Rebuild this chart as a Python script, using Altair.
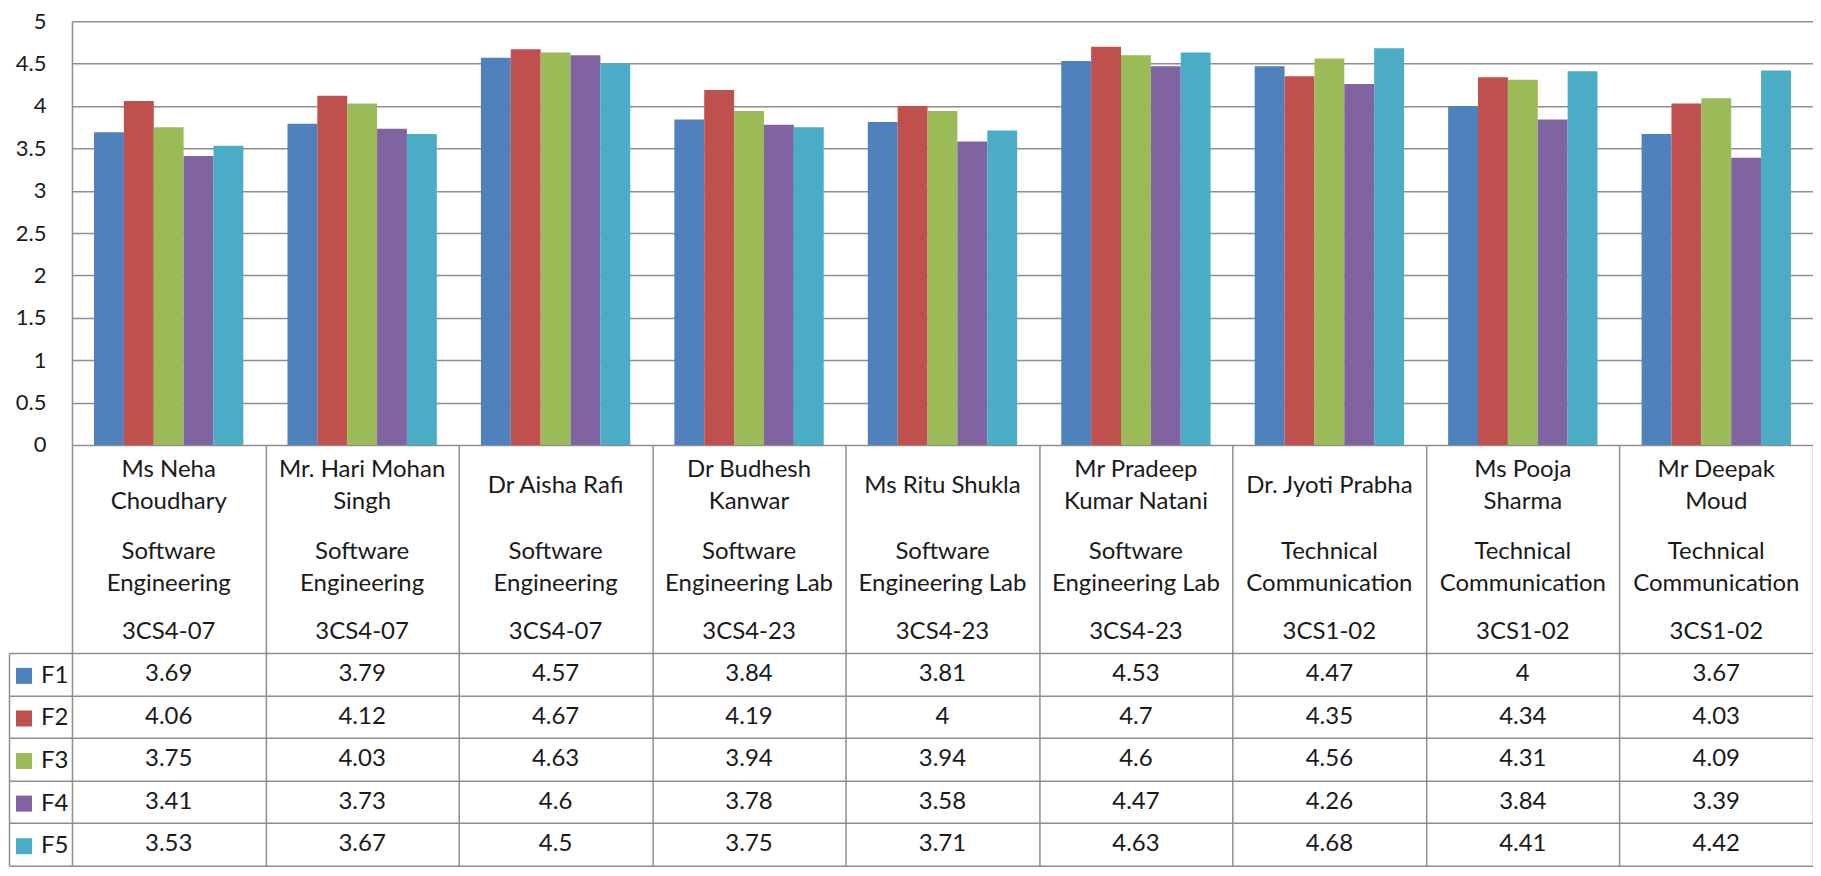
import altair as alt
import pandas as pd

# ---------------- data ----------------
names = ["Ms Neha\nChoudhary", "Mr. Hari Mohan\nSingh", "Dr Aisha Rafi",
         "Dr Budhesh\nKanwar", "Ms Ritu Shukla", "Mr Pradeep\nKumar Natani",
         "Dr. Jyoti Prabha", "Ms Pooja\nSharma", "Mr Deepak\nMoud"]
subjects = ["Software\nEngineering", "Software\nEngineering", "Software\nEngineering",
            "Software\nEngineering Lab", "Software\nEngineering Lab", "Software\nEngineering Lab",
            "Technical\nCommunication", "Technical\nCommunication", "Technical\nCommunication"]
codes = ["3CS4-07", "3CS4-07", "3CS4-07", "3CS4-23", "3CS4-23", "3CS4-23",
         "3CS1-02", "3CS1-02", "3CS1-02"]
series = ["F1", "F2", "F3", "F4", "F5"]
f1 = [3.69, 3.79, 4.57, 3.84, 3.81, 4.53, 4.47, 4, 3.67]
f2 = [4.06, 4.12, 4.67, 4.19, 4, 4.7, 4.35, 4.34, 4.03]
f3 = [3.75, 4.03, 4.63, 3.94, 3.94, 4.6, 4.56, 4.31, 4.09]
f4 = [3.41, 3.73, 4.6, 3.78, 3.58, 4.47, 4.26, 3.84, 3.39]
f5 = [3.53, 3.67, 4.5, 3.75, 3.71, 4.63, 4.68, 4.41, 4.42]
y_ticks = [0, 0.5, 1, 1.5, 2, 2.5, 3, 3.5, 4, 4.5, 5]
colors = ["#4F81BD", "#C0504D", "#9BBB59", "#8064A2", "#4BACC6"]
header_rows = ["name", "subject", "code"]

values = [f1, f2, f3, f4, f5]
long_df = pd.DataFrame([
    {"cat": names[i], "series": s, "value": values[k][i]}
    for k, s in enumerate(series) for i in range(len(names))
])
header_df = pd.DataFrame(
    [{"cat": names[i], "row": "name", "label": names[i]} for i in range(len(names))]
    + [{"cat": names[i], "row": "subject", "label": subjects[i]} for i in range(len(names))]
    + [{"cat": names[i], "row": "code", "label": codes[i]} for i in range(len(names))]
)

# ---------------- style ----------------
FONT = "Lato"
FS_AX = 22
FS = 24
LH = 31.5
GRID = "#8e8e8e"
GW = 1.5
TXT = "#1a1a1a"
W = 1742

x_bar_scale = alt.Scale(domain=names, paddingInner=0.228, paddingOuter=0.114)
x_tab_scale = alt.Scale(domain=names, paddingInner=0, paddingOuter=0)
x_tab_axis = alt.Axis(grid=True, tickBand="extent", labels=False, ticks=False, domain=False,
                      title=None, gridColor=GRID, gridWidth=GW, orient="bottom", maxExtent=0)

bars = alt.Chart(long_df).mark_bar().encode(
    x=alt.X("cat:N", scale=x_bar_scale, axis=None),
    xOffset=alt.XOffset("series:N", scale=alt.Scale(domain=series, paddingInner=0, paddingOuter=0)),
    y=alt.Y("value:Q", scale=alt.Scale(domain=[0, 5], nice=False),
            axis=alt.Axis(values=y_ticks, format="~g", title=None, ticks=False, labelPadding=26,
                          minExtent=63, labelFontSize=FS_AX, labelFont=FONT, labelColor=TXT,
                          domainColor=GRID, domainWidth=GW, gridColor=GRID, gridWidth=GW)),
    color=alt.Color("series:N", scale=alt.Scale(domain=series, range=colors),
                    legend=alt.Legend(orient="none", legendX=-60, legendY=643, title=None,
                                      symbolType="square", symbolSize=256, symbolStrokeWidth=0,
                                      labelFontSize=FS, labelFont=FONT, labelColor=TXT,
                                      rowPadding=18.6, labelOffset=5, padding=0)),
).properties(width=W, height=424)


def header_layer(row, dy, test=None):
    base = alt.Chart(header_df).transform_filter(alt.datum.row == row)
    if test is not None:
        base = base.transform_filter(test)
    return base.mark_text(
        lineBreak="\n", font=FONT, fontSize=FS, color=TXT, lineHeight=LH, dy=dy
    ).encode(
        x=alt.X("cat:N", scale=x_tab_scale, axis=x_tab_axis),
        y=alt.Y("row:N", scale=alt.Scale(type="point", domain=header_rows, padding=0.5), axis=None),
        text="label:N",
    )


multi = "indexof(datum.label, '\\n') >= 0"
single = "indexof(datum.label, '\\n') < 0"
header = alt.layer(
    header_layer("name", 6.6 - LH / 2, multi),
    header_layer("name", 6.6, single),
    header_layer("subject", 19 - LH / 2),
    header_layer("code", 14),
).properties(width=W, height=208)

y_tab_scale = alt.Scale(domain=series, paddingInner=0, paddingOuter=0)
val_layer = alt.Chart(long_df).mark_text(font=FONT, fontSize=FS, color=TXT).encode(
    x=alt.X("cat:N", scale=x_tab_scale, axis=x_tab_axis),
    y=alt.Y("series:N", scale=y_tab_scale,
            axis=alt.Axis(grid=True, tickBand="extent", labels=False, ticks=True, tickSize=63,
                          tickColor=GRID, tickWidth=GW, domain=False, title=None,
                          gridColor=GRID, gridWidth=GW)),
    text=alt.Text("value:Q", format="~g"),
)
border_layer = alt.Chart(long_df).mark_point(opacity=0).encode(
    x=alt.X("cat:N", scale=x_tab_scale, axis=x_tab_axis),
    y=alt.Y("series:N", scale=y_tab_scale,
            axis=alt.Axis(orient="left", offset=63, domain=True, domainColor=GRID, domainWidth=GW,
                          labels=False, ticks=False, grid=False, title=None)),
)
table = alt.layer(val_layer, border_layer).resolve_axis(y="independent").properties(width=W, height=213)

chart = alt.vconcat(bars, header, table, spacing=0, bounds="flush").properties(
    padding={"top": 2, "left": 0, "right": 0, "bottom": 0}).configure_view(stroke=None)

chart.save("out.html", embed_options={"renderer": "svg", "actions": False})
